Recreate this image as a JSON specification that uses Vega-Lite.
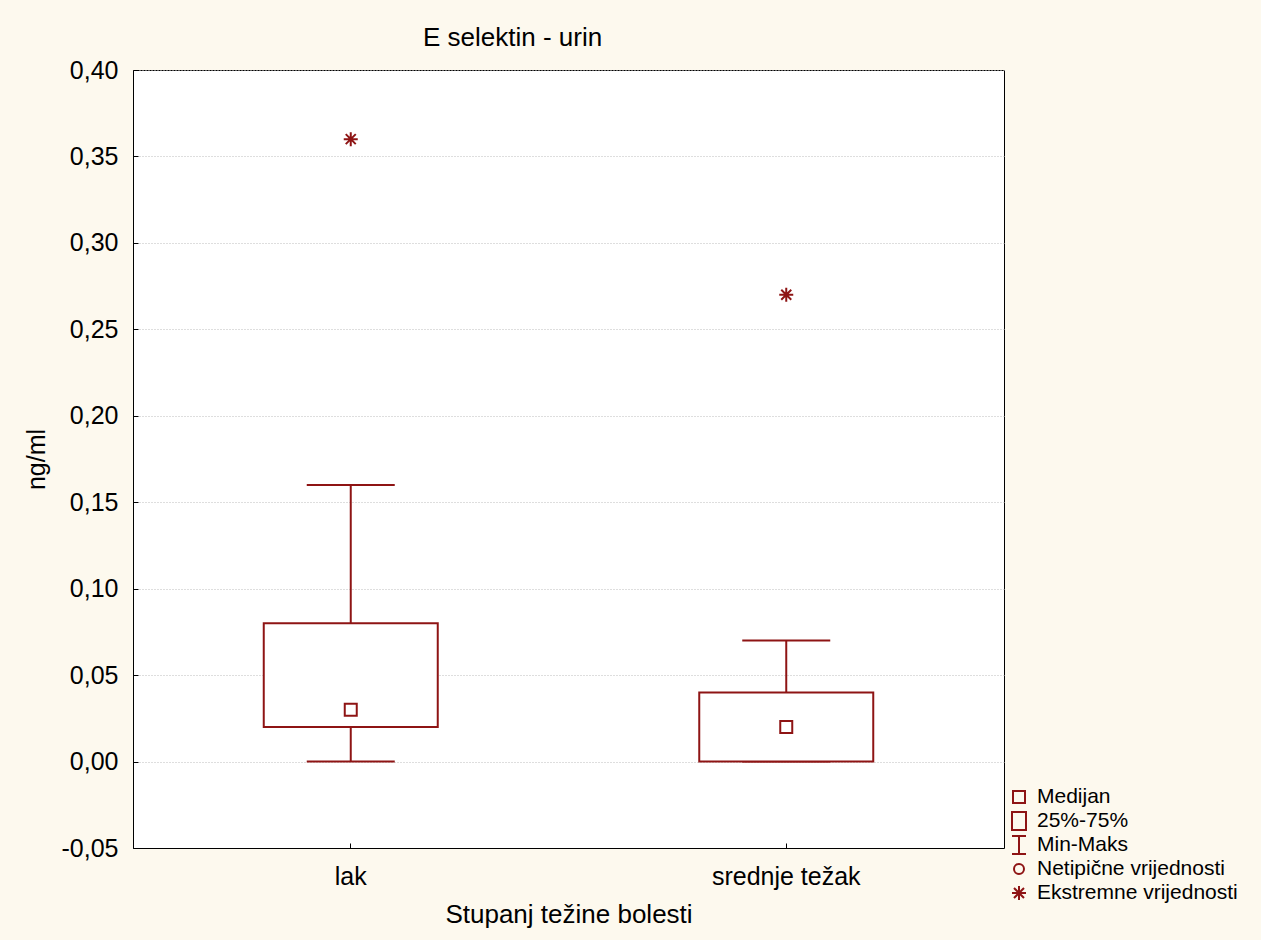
{
  "$schema": "https://vega.github.io/schema/vega-lite/v6.json",
  "width": 871,
  "height": 778,
  "autosize": {"type": "none"},
  "padding": {"left": 133, "top": 70, "right": 257, "bottom": 92},
  "background": "#FDF9EE",
  "title": {
    "text": "E selektin - urin",
    "anchor": "start",
    "frame": "group",
    "dx": 290,
    "offset": 7,
    "font": "Liberation Sans",
    "fontSize": 26,
    "fontWeight": "normal",
    "color": "#000000"
  },
  "datasets": {
    "stats": [
      {"cat": "lak", "min": 0, "q1": 0.02, "q3": 0.08, "max": 0.16},
      {"cat": "srednje težak", "min": 0, "q1": 0.0, "q3": 0.04, "max": 0.07}
    ],
    "pts": [
      {"cat": "lak", "v": 0.03, "type": "Medijan"},
      {"cat": "srednje težak", "v": 0.02, "type": "Medijan"},
      {"cat": "lak", "v": 0.36, "type": "Ekstremne vrijednosti"},
      {"cat": "srednje težak", "v": 0.27, "type": "Ekstremne vrijednosti"}
    ]
  },
  "encoding": {
    "x": {
      "field": "cat",
      "type": "nominal",
      "sort": ["lak", "srednje težak"],
      "scale": {"domain": ["lak", "srednje težak"], "paddingInner": 0, "paddingOuter": 0},
      "axis": {
        "title": "Stupanj težine bolesti",
        "labelAngle": 0,
        "labelFontSize": 25,
        "titleFontSize": 26,
        "labelPadding": 21,
        "titlePadding": 12,
        "tickSize": -5,
        "grid": false
      }
    }
  },
  "layer": [
    {
      "data": {"name": "stats"},
      "mark": {"type": "rule", "color": "#8E1414", "strokeWidth": 2},
      "encoding": {
        "y": {
          "field": "min",
          "type": "quantitative",
          "scale": {"domain": [-0.05, 0.4], "nice": false, "zero": false},
          "axis": {
            "title": "ng/ml",
            "values": [-0.05, 0, 0.05, 0.1, 0.15, 0.2, 0.25, 0.3, 0.35, 0.4],
            "format": ".2f",
            "labelFontSize": 25,
            "titleFontSize": 25,
            "labelPadding": 20,
            "titlePadding": 12,
            "tickSize": -5,
            "grid": true,
            "gridColor": "#bdbdbd",
            "gridDash": [1, 2],
            "gridWidth": 1
          }
        },
        "y2": {"field": "max"}
      }
    },
    {
      "data": {"name": "stats"},
      "mark": {"type": "tick", "color": "#8E1414", "opacity": 1, "thickness": 2, "size": 88, "orient": "horizontal"},
      "encoding": {"y": {"field": "min", "type": "quantitative"}}
    },
    {
      "data": {"name": "stats"},
      "mark": {"type": "tick", "color": "#8E1414", "opacity": 1, "thickness": 2, "size": 88, "orient": "horizontal"},
      "encoding": {"y": {"field": "max", "type": "quantitative"}}
    },
    {
      "data": {"name": "stats"},
      "mark": {"type": "bar", "size": 174, "fill": "#FFFFFF", "stroke": "#8E1414", "strokeWidth": 2},
      "encoding": {
        "y": {"field": "q1", "type": "quantitative"},
        "y2": {"field": "q3"}
      }
    },
    {
      "data": {"name": "pts"},
      "mark": {"type": "point", "filled": false, "color": "#8E1414", "strokeWidth": 2, "size": 400, "opacity": 1},
      "encoding": {
        "y": {"field": "v", "type": "quantitative"},
        "shape": {
          "field": "type",
          "type": "nominal",
          "scale": {
            "domain": ["Medijan", "25%-75%", "Min-Maks", "Netipične vrijednosti", "Ekstremne vrijednosti"],
            "range": [
              "M-0.7,-0.9M0.7,0.9M-0.6,-0.6H0.6V0.6H-0.6Z",
              "M-0.7,-0.9M0.7,0.9M-0.7,-0.9H0.7V0.9H-0.7Z",
              "M-0.7,-0.9M0.7,0.9M-0.7,-0.9H0.7M0,-0.9V0.9M-0.7,0.9H0.7",
              "M-0.7,-0.9M0.7,0.9M0.5,0A0.5,0.5,0,1,1,-0.5,0A0.5,0.5,0,1,1,0.5,0",
              "M-0.7,-0.9M0.7,0.9M0,-0.7V0.7M-0.7,0H0.7M-0.5,-0.5L0.5,0.5M-0.5,0.5L0.5,-0.5"
            ]
          },
          "legend": {
            "title": null,
            "orient": "none",
            "legendX": 875,
            "legendY": 716,
            "symbolSize": 400,
            "symbolStrokeWidth": 2,
            "symbolStrokeColor": "#8E1414",
            "symbolFillColor": "transparent",
            "labelFontSize": 21,
            "labelFont": "Liberation Sans",
            "labelColor": "#000000",
            "labelLimit": 0,
            "labelOffset": 7,
            "rowPadding": -8,
            "padding": 0
          }
        }
      }
    }
  ],
  "config": {
    "locale": {
      "number": {"decimal": ",", "thousands": ".", "grouping": [3], "currency": ["", " €"], "minus": "-"}
    },
    "font": "Liberation Sans",
    "view": {"stroke": "#000000", "strokeWidth": 1, "fill": "#FFFFFF"},
    "axis": {
      "labelFont": "Liberation Sans",
      "titleFont": "Liberation Sans",
      "labelColor": "#000000",
      "titleColor": "#000000",
      "titleFontWeight": "normal",
      "domainColor": "#000000",
      "tickColor": "#000000",
      "domainWidth": 1,
      "tickWidth": 1
    }
  }
}
